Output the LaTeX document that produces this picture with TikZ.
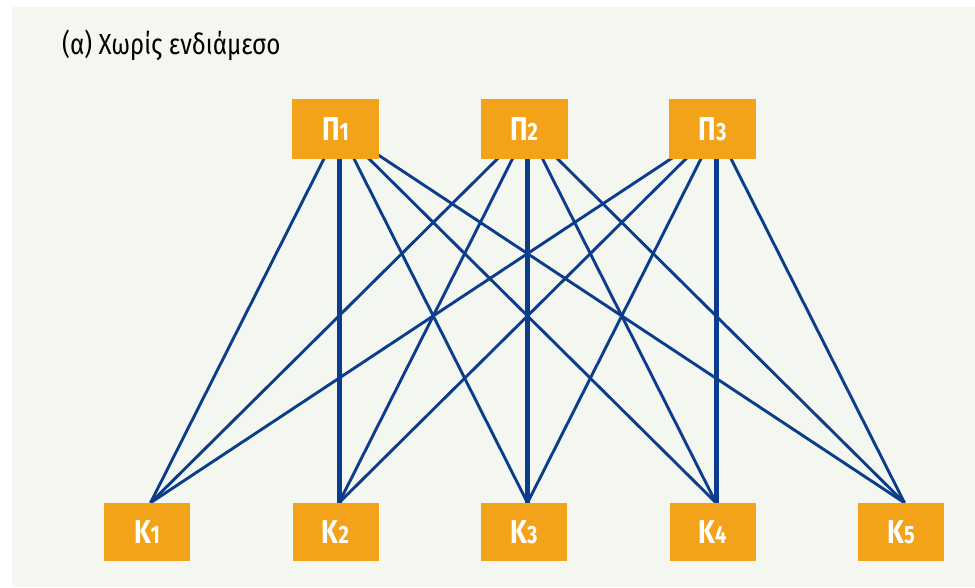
\documentclass[tikz,border=0pt]{standalone}
\usepackage{fontspec}
\setmainfont{Fira Sans}
\newfontfamily\lblfont[FakeStretch=0.8]{Fira Sans}
\newfontfamily\ttlfont[FakeStretch=0.835]{Fira Sans}
\definecolor{bgc}{HTML}{F4F7EF}
\definecolor{boxc}{HTML}{F2A31A}
\definecolor{linec}{HTML}{0B3D8C}
\pgfdeclarelayer{bgl}
\pgfdeclarelayer{linel}
\pgfsetlayers{bgl,linel,main}
\tikzset{
  pbox/.style={fill=boxc, draw=none, minimum width=87pt, minimum height=60pt, inner sep=0pt,
    text=white, font=\lblfont\bfseries\fontsize{33}{33}\selectfont},
  kbox/.style={pbox, minimum width=86pt, minimum height=58pt},
  edge/.style={draw=linec, line width=2.9pt},
  thick edge/.style={draw=linec, line width=5pt},
}
\newcommand{\dg}[1]{{\fontsize{25}{25}\selectfont #1}}
\begin{document}
\begin{tikzpicture}[x=1pt,y=-1pt]
\useasboundingbox (0,0) rectangle (975,587);
\begin{pgfonlayer}{bgl}
\fill[white] (0,0) rectangle (975,587);
\fill[bgc] (12,7) rectangle (975,587);
\end{pgfonlayer}
\node[anchor=west, inner sep=0pt, font=\ttlfont\fontsize{29}{29}\selectfont] (title) at (62,45) {(α) Χωρίς ενδιάμεσο};
\node[pbox] (P1) at (335.5,129) {Π\dg{1}};
\node[pbox] (P2) at (524,129) {Π\dg{2}};
\node[pbox] (P3) at (712.5,129) {Π\dg{3}};
\node[kbox] (K1) at (147,532) {Κ\dg{1}};
\node[kbox] (K2) at (335.5,532) {Κ\dg{2}};
\node[kbox] (K3) at (524,532) {Κ\dg{3}};
\node[kbox] (K4) at (712.5,532) {Κ\dg{4}};
\node[kbox] (K5) at (901,532) {Κ\dg{5}};
\begin{pgfonlayer}{linel}
\foreach \p in {1,2,3}{
  \foreach \k in {1,...,5}{
    \pgfmathtruncatemacro{\kk}{\p+1}
    \ifnum\k=\kk
      \draw[thick edge] ([xshift=3.5pt]P\p.center) -- ([xshift=3.5pt]K\k.north);
    \else
      \draw[edge] ([xshift=3.5pt]P\p.center) -- ([xshift=3.5pt]K\k.north);
    \fi
  }
}
\end{pgfonlayer}
\end{tikzpicture}
\end{document}
